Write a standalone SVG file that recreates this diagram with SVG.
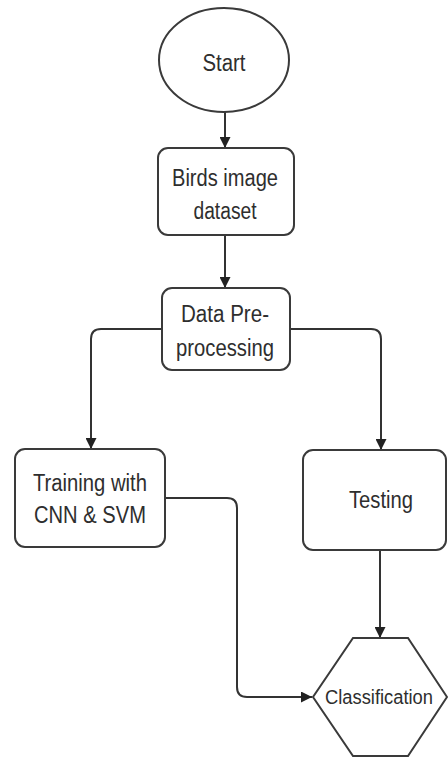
<svg xmlns="http://www.w3.org/2000/svg" width="448" height="760" viewBox="0 0 448 760">
<style>
.shape{fill:#ffffff;stroke:#3a3a3a;stroke-width:2}
.lbl{font-family:"Liberation Sans",Arial,sans-serif;font-size:23px;fill:#2e2e2e;text-anchor:middle}
.edge{fill:none;stroke:#333333;stroke-width:2}
</style>
<defs>
<marker id="arr" viewBox="0 0 10 10" refX="10" refY="5" markerWidth="11" markerHeight="11" markerUnits="userSpaceOnUse" orient="auto">
<path d="M0,0 L10,5 L0,10 z" fill="#222222"/>
</marker>
</defs>
<rect width="448" height="760" fill="#ffffff"/>
<g id="connectors">
<path class="edge" d="M225 112 V148" marker-end="url(#arr)"/>
<path class="edge" d="M225 235 V288" marker-end="url(#arr)"/>
<path class="edge" d="M162 329 H101 Q91 329 91 339 V449" marker-end="url(#arr)"/>
<path class="edge" d="M290 329 H371 Q381 329 381 339 V450" marker-end="url(#arr)"/>
<path class="edge" d="M165 498 H227 Q237 498 237 508 V687 Q237 697 247 697 H312" marker-end="url(#arr)"/>
<path class="edge" d="M380 550 V638" marker-end="url(#arr)"/>
</g>
<g id="start">
<ellipse class="shape" cx="224" cy="60" rx="65" ry="52"/>
<text class="lbl" x="224" y="71" textLength="43" lengthAdjust="spacingAndGlyphs">Start</text>
</g>
<g id="birds">
<rect class="shape" x="158" y="148" width="136" height="87" rx="10"/>
<text class="lbl" x="225" y="186" textLength="106" lengthAdjust="spacingAndGlyphs">Birds image</text>
<text class="lbl" x="225" y="219" textLength="63" lengthAdjust="spacingAndGlyphs">dataset</text>
</g>
<g id="preprocessing">
<rect class="shape" x="162" y="288" width="128" height="82" rx="10"/>
<text class="lbl" x="225" y="322" textLength="88" lengthAdjust="spacingAndGlyphs">Data Pre-</text>
<text class="lbl" x="225" y="356" textLength="98" lengthAdjust="spacingAndGlyphs">processing</text>
</g>
<g id="training">
<rect class="shape" x="15" y="449" width="150" height="98" rx="10"/>
<text class="lbl" x="90" y="491" textLength="114" lengthAdjust="spacingAndGlyphs">Training with</text>
<text class="lbl" x="90" y="523" textLength="112" lengthAdjust="spacingAndGlyphs">CNN &amp; SVM</text>
</g>
<g id="testing">
<rect class="shape" x="303" y="450" width="143" height="100" rx="10"/>
<text class="lbl" x="381" y="508" textLength="64" lengthAdjust="spacingAndGlyphs">Testing</text>
</g>
<g id="classification">
<polygon class="shape" points="353,638 408,638 447,697 408,756 353,756 313,697"/>
<text class="lbl" x="379" y="704" style="font-size:20px" textLength="108" lengthAdjust="spacingAndGlyphs">Classification</text>
</g>
</svg>
